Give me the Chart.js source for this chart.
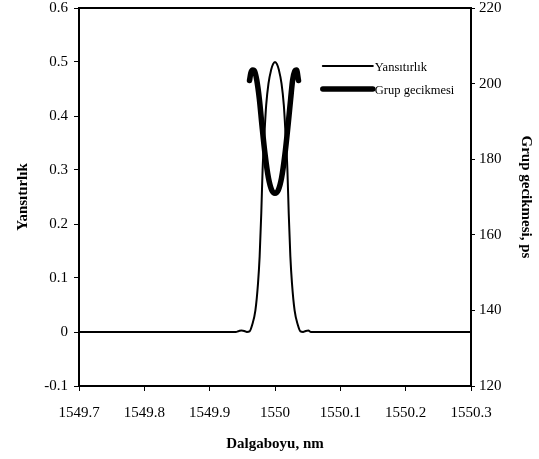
<!DOCTYPE html>
<html>
<head>
<meta charset="utf-8">
<script src="https://cdn.jsdelivr.net/npm/chart.js@4.4.1/dist/chart.umd.min.js"></script>
<style>
  html, body { margin: 0; padding: 0; background: #fff; }
  #wrap { width: 539px; height: 459px; position: relative; }
</style>
</head>
<body>
<div id="wrap"><canvas id="chart"></canvas></div>
<script>
// Yansıtırlık (reflectivity) curve
var reflWave = [1549.70, 1549.90, 1549.940, 1549.945, 1549.949, 1549.953, 1549.957, 1549.961,
  1549.965, 1549.970, 1549.974, 1549.9765, 1549.979, 1549.981, 1549.984, 1549.9865, 1549.990,
  1549.994, 1549.997, 1550.000, 1550.003, 1550.006, 1550.010, 1550.0135, 1550.016, 1550.019,
  1550.021, 1550.0235, 1550.026, 1550.030, 1550.035, 1550.039, 1550.043, 1550.047, 1550.051,
  1550.055, 1550.10, 1550.30];
var reflValues = [0, 0, 0, 0.002, 0.003, 0.002, 0, 0.001,
  0.013, 0.04, 0.09, 0.14, 0.22, 0.30, 0.37, 0.42, 0.46,
  0.485, 0.496, 0.5, 0.496, 0.485, 0.46, 0.42, 0.37, 0.30,
  0.22, 0.14, 0.09, 0.04, 0.013, 0.001, 0, 0.002, 0.003,
  0, 0, 0];

// Grup gecikmesi (group delay) curve, ps
var delayWave = [1549.961, 1549.963, 1549.966, 1549.969, 1549.972, 1549.976, 1549.980, 1549.985,
  1549.990, 1549.995, 1550.000, 1550.005, 1550.010, 1550.015, 1550.020, 1550.024, 1550.027,
  1550.030, 1550.033, 1550.036];
var delayValues = [200.8, 202.8, 203.6, 203.2, 201.0, 196.0, 189.0, 181.0,
  175.0, 171.8, 171.0, 171.8, 175.0, 181.0, 189.0, 196.0, 201.0,
  203.2, 203.6, 200.8];

var waveTicks = [1549.7, 1549.8, 1549.9, 1550, 1550.1, 1550.2, 1550.3];
var reflTicks = [-0.1, 0, 0.1, 0.2, 0.3, 0.4, 0.5, 0.6];
var delayTicks = [120, 140, 160, 180, 200, 220];

var seriesNames = ['Yansıtırlık', 'Grup gecikmesi'];

function toPoints(xs, ys) {
  return xs.map(function (x, i) { return { x: x, y: ys[i] }; });
}

function fixedTicks(list) {
  return function (scale) {
    scale.ticks = list.map(function (v) { return { value: v }; });
  };
}

// fixed width for a vertical axis, without the extra room above/below for labels
function fitY(width) {
  return function (s) {
    s.width = width;
    s.paddingTop = 0;
    s.paddingBottom = 0;
  };
}

var serif = 'Liberation Serif, Times New Roman, serif';

// top frame line + in-plot legend
var framePlugin = {
  id: 'frame',
  afterDraw: function (chart) {
    var ctx = chart.ctx;
    var a = chart.chartArea;
    ctx.save();
    ctx.strokeStyle = '#000';
    ctx.lineWidth = 2;
    ctx.beginPath();
    ctx.moveTo(a.left - 1, a.top);
    ctx.lineTo(a.right + 1, a.top);
    ctx.stroke();

    var lx = a.left + (a.right - a.left) * 0.622;
    var ly = a.top + 58;
    ctx.lineCap = 'round';
    ctx.font = '12.5px ' + serif;
    ctx.fillStyle = '#000';
    ctx.textBaseline = 'middle';
    chart.data.datasets.forEach(function (ds, i) {
      var y = ly + i * 23;
      ctx.lineWidth = ds.borderWidth;
      ctx.beginPath();
      ctx.moveTo(lx, y);
      ctx.lineTo(lx + 50, y);
      ctx.stroke();
      ctx.fillText(ds.label, lx + 52, y + 2);
    });
    ctx.restore();
  }
};

new Chart(document.getElementById('chart'), {
  type: 'scatter',
  data: {
    datasets: [{
      label: seriesNames[0],
      data: toPoints(reflWave, reflValues),
      yAxisID: 'y',
      showLine: true,
      borderColor: '#000',
      borderWidth: 2,
      pointRadius: 0,
      cubicInterpolationMode: 'monotone'
    }, {
      label: seriesNames[1],
      data: toPoints(delayWave, delayValues),
      yAxisID: 'y2',
      showLine: true,
      borderColor: '#000',
      borderWidth: 5.5,
      borderCapStyle: 'round',
      pointRadius: 0,
      cubicInterpolationMode: 'monotone'
    }]
  },
  options: {
    responsive: true,
    maintainAspectRatio: false,
    animation: false,
    layout: { padding: { top: 8, right: 0, left: 10, bottom: 0 } },
    plugins: { legend: { display: false }, tooltip: { enabled: false } },
    scales: {
      x: {
        type: 'linear',
        min: 1549.7,
        max: 1550.3,
        afterBuildTicks: fixedTicks(waveTicks),
        afterFit: function (s) { s.height = 73; },
        grid: { display: true, drawOnChartArea: false, tickLength: 5, color: '#000', tickColor: '#000' },
        border: { color: '#000', width: 2 },
        ticks: { color: '#000', font: { family: serif, size: 15 }, padding: 13, maxRotation: 0,
          callback: function (v) { return String(Number(v.toFixed(1))); } },
        title: { display: true, text: 'Dalgaboyu, nm', color: '#000',
          font: { family: serif, size: 15, weight: 'bold' }, padding: { top: 4, bottom: 6 } }
      },
      y: {
        position: 'left',
        min: -0.1,
        max: 0.6,
        afterBuildTicks: fixedTicks(reflTicks),
        afterFit: fitY(69),
        grid: { display: true, drawOnChartArea: false, tickLength: 5, color: '#000', tickColor: '#000' },
        border: { color: '#000', width: 2 },
        ticks: { color: '#000', font: { family: serif, size: 15 }, padding: 6,
          callback: function (v) { return String(Number(v.toFixed(1))); } },
        title: { display: true, text: 'Yansıtırlık', color: '#000',
          font: { family: serif, size: 15, weight: 'bold' }, padding: { bottom: 6 } }
      },
      y2: {
        position: 'right',
        min: 120,
        max: 220,
        afterBuildTicks: fixedTicks(delayTicks),
        afterFit: fitY(68),
        grid: { display: true, drawOnChartArea: false, tickLength: 4, color: '#000', tickColor: '#000' },
        border: { color: '#000', width: 2 },
        ticks: { color: '#000', font: { family: serif, size: 15 }, padding: 4 },
        title: { display: true, text: 'Grup gecikmesi, ps', color: '#000',
          font: { family: serif, size: 15, weight: 'bold' }, padding: 4 }
      }
    }
  },
  plugins: [framePlugin]
});
</script>
</body>
</html>
